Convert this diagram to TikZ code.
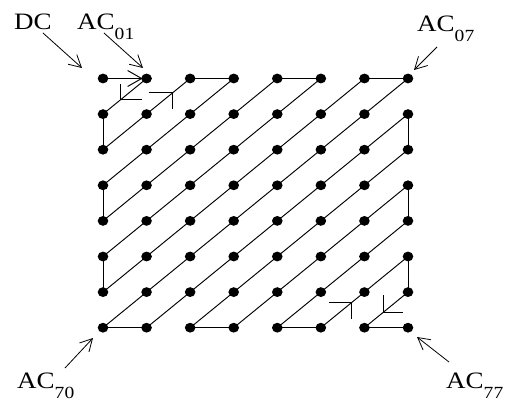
\documentclass[tikz,border=0pt]{standalone}
\usepackage{fontspec}
\setmainfont{Liberation Serif}
\usetikzlibrary{arrows.meta,calc}
\newcommand\mylab[1]{\scalebox{1.15}[1]{#1}}
\newcommand\acsub[1]{\scalebox{1.15}[1]{AC\raisebox{-10pt}{\fontsize{17pt}{17pt}\selectfont #1}}}
\begin{document}
\begin{tikzpicture}[x=1pt,y=-1pt,
  conn/.style={line width=0.95pt},
  labarrow/.style={line width=0.8pt,-{Straight Barb[length=12pt,width=13pt,line width=0.8pt]}},
  dirmark/.style={line width=0.95pt},
  labtext/.style={inner sep=0pt,font=\fontsize{23.5pt}{23.5pt}\selectfont}]
\useasboundingbox (0,0) rectangle (508,403);
\fill[white] (0,0) rectangle (508,403);
% grid coordinates
\foreach \r in {0,...,7}{
  \foreach \c in {0,...,7}{
    \coordinate (p\r\c) at ({103+43.57*\c},{78.5+35.6*\r});
  }
}
% anti-diagonals
\foreach \k in {1,...,13}{
  \pgfmathtruncatemacro\rmax{min(\k,7)}
  \pgfmathtruncatemacro\rmin{max(0,\k-7)}
  \pgfmathtruncatemacro\cmin{\k-\rmax}
  \pgfmathtruncatemacro\cmax{\k-\rmin}
  \draw[conn] (p\rmax\cmin) -- (p\rmin\cmax);
}
% edge segments
\draw[conn] (p02) -- (p03) (p04) -- (p05) (p06) -- (p07);
\draw[conn] (p10) -- (p20) (p30) -- (p40) (p50) -- (p60);
\draw[conn] (p70) -- (p71) (p72) -- (p73) (p74) -- (p75) (p76) -- (p77);
\draw[conn] (p17) -- (p27) (p37) -- (p47) (p57) -- (p67);
% first arrow DC -> AC01
\draw[conn,-{Straight Barb[length=14pt,width=16pt,line width=0.95pt]},shorten >=4pt] (p00) -- (p01);
% direction marks
\coordinate (t1) at ($(p01)!0.6!(p10)$);
\coordinate (t2) at ($(p11)!0.6!(p02)$);
\coordinate (t3) at ($(p75)!0.71!(p66)$);
\coordinate (t4) at ($(p67)!0.57!(p76)$);
\draw[dirmark] ($(t1)+(0,-16)$) -- (t1) -- ($(t1)+(22,0)$);
\draw[dirmark] ($(t2)+(-24,0)$) -- (t2) -- ($(t2)+(0,16)$);
\draw[dirmark] ($(t3)+(-23,0)$) -- (t3) -- ($(t3)+(0,17)$);
\draw[dirmark] ($(t4)+(0,-17)$) -- (t4) -- ($(t4)+(20,0)$);
% dots
\foreach \r in {0,...,7}{
  \foreach \c in {0,...,7}{
    \fill (p\r\c) circle[x radius=5.3pt,y radius=4.9pt];
  }
}
% labels
\node[labtext,anchor=base] (dc) at (33,30) {\mylab{DC}};
\node[labtext,anchor=base west] (a01) at (77,30) {\acsub{01}};
\node[labtext,anchor=base west] (a07) at (417,32) {\acsub{07}};
\node[labtext,anchor=base west] (a70) at (17,388) {\acsub{70}};
\node[labtext,anchor=base west] (a77) at (446,388) {\acsub{77}};
% label arrows
\coordinate (s1) at (43,33);  \coordinate (e1) at (82,68);
\coordinate (s2) at (104,33); \coordinate (e2) at (143,68);
\coordinate (s3) at (437,47); \coordinate (e3) at (414,70);
\coordinate (s4) at (65,368); \coordinate (e4) at (93,338);
\coordinate (s5) at (449,362); \coordinate (e5) at (417,337);
\draw[labarrow] (s1) -- (e1);
\draw[labarrow] (s2) -- (e2);
\draw[labarrow] (s3) -- (e3);
\draw[labarrow] (s4) -- (e4);
\draw[labarrow] (s5) -- (e5);
\end{tikzpicture}
\end{document}
